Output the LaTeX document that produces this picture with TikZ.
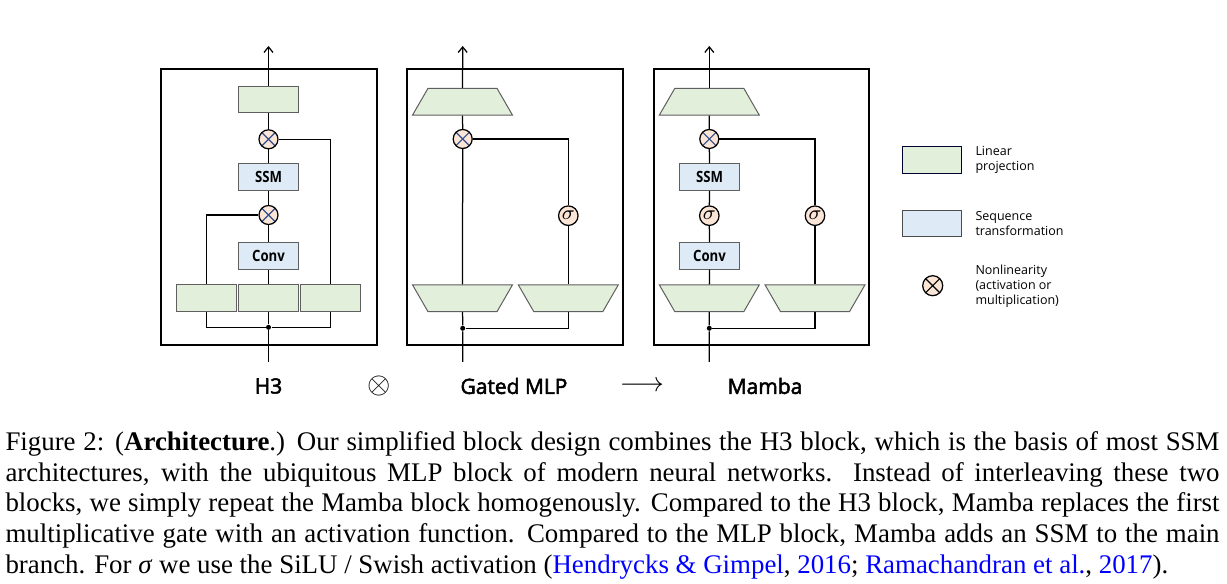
\documentclass[tikz,border=0pt]{standalone}
\usepackage{fontspec}
\setmainfont{Liberation Serif}
\setsansfont{Open Sans}
\newfontfamily\condfont{Open Sans}[FakeStretch=0.85]
\newfontfamily\semifont{Open Sans}[FakeBold=2.5]
\usepackage{xcolor}
\usepackage{tikz}
\usetikzlibrary{arrows.meta, shapes.geometric, positioning}

\definecolor{linfill}{HTML}{E2EFDA}
\definecolor{seqfill}{HTML}{DEEBF7}
\definecolor{mulfill}{HTML}{FBE5D6}
\definecolor{boxline}{HTML}{5F5F5F}
\definecolor{xline}{HTML}{2F4F8F}
\definecolor{citeblue}{RGB}{0,0,255}

\begin{document}
\begin{tikzpicture}[
      x=0.4pt, y=-0.4pt,
      frame/.style={draw, line width=0.8pt, inner sep=0,
                    minimum width=86.4pt, minimum height=110.2pt},
      lin/.style={draw=boxline, line width=0.4pt, fill=linfill, inner sep=0,
                  minimum width=24pt, minimum height=10.6pt},
      seq/.style={draw=boxline, line width=0.4pt, fill=seqfill, inner sep=0,
                  minimum width=24pt, minimum height=10.6pt,
                  font=\condfont\bfseries\fontsize{6.2}{7}\selectfont},
      trap/.style={trapezium, trapezium angle=60,
                   draw=boxline, line width=0.4pt, fill=linfill,
                   inner xsep=13.8pt, inner ysep=5.35pt},
      trapdn/.style={trap, shape border rotate=180},
      mul/.style={circle, draw, line width=0.5pt, fill=mulfill, inner sep=0,
                  minimum size=7.6pt,
                  path picture={\draw[xline, line width=0.45pt]
                     (path picture bounding box.north west) -- (path picture bounding box.south east)
                     (path picture bounding box.north east) -- (path picture bounding box.south west);}},
      act/.style={circle, draw, line width=0.5pt, fill=mulfill, inner sep=0,
                  minimum size=7.8pt, font=\fontsize{8}{8}\selectfont},
      dot/.style={circle, fill, inner sep=0, minimum size=2pt},
      blocklabel/.style={font=\semifont\fontsize{8.4}{10}\selectfont},
      legtext/.style={anchor=west, align=left, inner sep=0,
                      font=\sffamily\fontsize{5}{6}\selectfont},
      caption/.style={anchor=north west, inner sep=0, text width=485.6pt,
                      align=justify, font=\fontsize{10.75}{12.3}\selectfont},
      conn/.style={line width=0.5pt},
      arr/.style={conn, -{Straight Barb[length=2.2pt, width=3.6pt]}}
    ]
    \useasboundingbox (0,0) rectangle (1227,584);

    %% ---- H3 block ----
    \node[frame] at (268.7, 207.2) (h3box) {};
    \coordinate (h3in)  at (268.5, 362);
    \coordinate (h3out) at (268.5, 46);
    \node[lin] at (268.5,  99.7) (h3top)  {};
    \node[mul] at (268.5, 139.3) (h3mulB) {};
    \node[seq] at (268.5, 177.2) (h3ssm)  {SSM};
    \node[mul] at (268.5, 215.0) (h3mulA) {};
    \node[seq] at (268.5, 255.8) (h3conv) {Conv};
    \node[lin] at (206.2, 298.0) (h3l) {};
    \node[lin] at (268.5, 298.0) (h3m) {};
    \node[lin] at (330.8, 298.0) (h3r) {};
    \node[dot] at (268.5, 327.3) (h3dot) {};

    \draw[conn] (h3in) -- (h3dot) -- (h3m);
    \draw[conn] (h3l) |- (h3dot) -| (h3r);
    \draw[conn] (h3m) -- (h3conv) -- (h3mulA) -- (h3ssm) -- (h3mulB) -- (h3top);
    \draw[conn] (h3l) |- (h3mulA);
    \draw[conn] (h3r) |- (h3mulB);
    \draw[arr] (h3top) -- (h3out);

    %% ---- Gated MLP block ----
    \node[frame] at (515.3, 206.8) (mlpbox) {};
    \coordinate (mlpin)  at (462.7, 362);
    \coordinate (mlpout) at (462.7, 46);
    \node[trap]   at (462.5, 101.7) (mlpup)  {};
    \node[mul]    at (462.7, 139.0) (mlpmul) {};
    \node[act]    at (568.3, 215.7) (mlpsig) {$\sigma$};
    \node[trapdn] at (462.5, 298.3) (mlpl)   {};
    \node[trapdn] at (568.3, 298.3) (mlpr)   {};
    \node[dot]    at (462.7, 328.3) (mlpdot) {};

    \draw[conn] (mlpin) -- (mlpdot) -- (mlpl) -- (mlpmul) -- (mlpup);
    \draw[conn] (mlpdot) -| (mlpr);
    \draw[conn] (mlpr) -- (mlpsig) |- (mlpmul);
    \draw[arr] (mlpup) -- (mlpout);

    %% ---- Mamba block ----
    \node[frame, minimum width=86pt] at (761.5, 206.8) (mbbox) {};
    \coordinate (mbin)  at (709.3, 362);
    \coordinate (mbout) at (709.3, 46);
    \node[trap]   at (709.3, 101.7) (mbup)   {};
    \node[mul]    at (709.3, 139.0) (mbmul)  {};
    \node[seq]    at (709.5, 177.2) (mbssm)  {SSM};
    \node[act]    at (709.3, 215.7) (mbsigA) {$\sigma$};
    \node[seq]    at (709.5, 255.8) (mbconv) {Conv};
    \node[trapdn] at (709.3, 298.3) (mbl)    {};
    \node[trapdn] at (815.0, 298.3) (mbr)    {};
    \node[act]    at (815.0, 215.7) (mbsigB) {$\sigma$};
    \node[dot]    at (709.3, 328.3) (mbdot)  {};

    \draw[conn] (mbin) -- (mbdot) -- (mbl) -- (mbconv) -- (mbsigA) -- (mbssm) -- (mbmul) -- (mbup);
    \draw[conn] (mbdot) -| (mbr);
    \draw[conn] (mbr) -- (mbsigB) |- (mbmul);
    \draw[arr] (mbup) -- (mbout);

    %% ---- labels under the blocks ----
    \node[blocklabel] at (268.5, 386) (h3lab)  {H3};
    \node[font=\fontsize{12}{12}\selectfont] at (379, 386) (plus) {$\otimes$};
    \node[blocklabel] at (514, 386) (mlplab) {Gated MLP};
    \node[font=\fontsize{10.5}{12}\selectfont] at (642, 386) (becomes) {$\longrightarrow$};
    \node[blocklabel] at (765, 386) (mblab)  {Mamba};

    %% ---- legend ----
    \node[lin, minimum width=23.8pt, draw=black!80!blue] at (932, 160.0) (leglin) {};
    \node[seq, minimum width=23.8pt, draw=black!70] at (932, 223.7) (legseq) {};
    \node[mul, minimum size=8pt, path picture={\draw[black, line width=0.45pt]
             (path picture bounding box.north west) -- (path picture bounding box.south east)
             (path picture bounding box.north east) -- (path picture bounding box.south west);}]
          at (932.7, 285.7) (legmul) {};
    \node[legtext] at (975, 159.5) (leglintext) {Linear\\projection};
    \node[legtext] at (975, 224.0) (legseqtext) {Sequence\\transformation};
    \node[legtext] at (975, 286.0) (legmultext) {Nonlinearity\\(activation or\\multiplication)};

    %% ---- caption ----
    \node[caption] at (5, 431) (cap) {\hyphenpenalty=10000
      Figure 2: (\textbf{Architecture}.) Our simplified block design combines the H3 block, which is the basis of most SSM\linebreak
      architectures, with the ubiquitous MLP block of modern neural networks.  Instead of interleaving these two\linebreak
      blocks, we simply repeat the Mamba block homogenously. Compared to the H3 block, Mamba replaces the first\linebreak
      multiplicative gate with an activation function. Compared to the MLP block, Mamba adds an SSM to the main\linebreak
      branch. For \textit{σ} we use the SiLU / Swish activation (\textcolor{citeblue}{Hendrycks \& Gimpel}, \textcolor{citeblue}{2016}; \textcolor{citeblue}{Ramachandran et al.}, \textcolor{citeblue}{2017}).};

  \end{tikzpicture}
\end{document}
